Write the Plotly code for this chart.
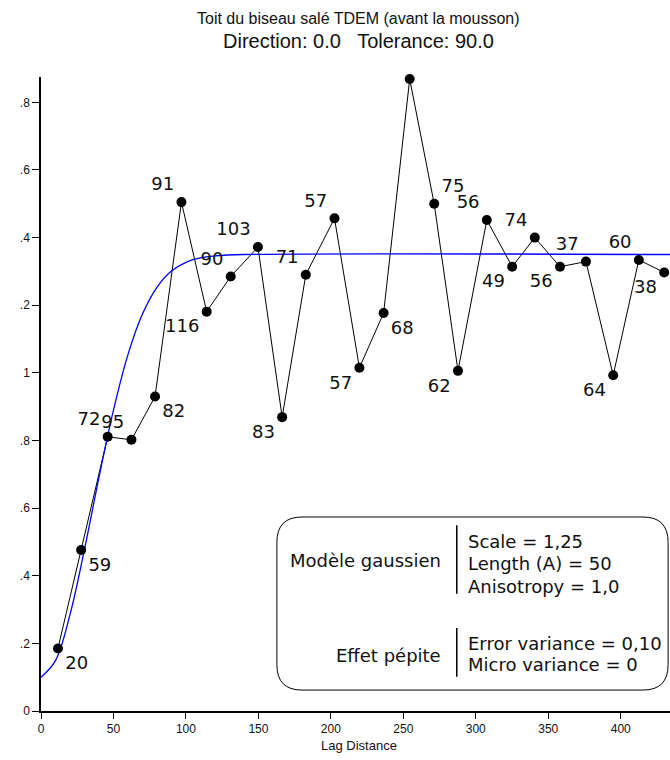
import plotly.graph_objects as go

# Experimental variogram (lag distance, semivariance, number of pairs)
lag = [11.7, 27.7, 46.0, 62.4, 78.7, 96.9, 114.3, 130.9, 149.7, 166.4, 182.7, 202.5,
       219.7, 236.4, 254.4, 271.3, 287.7, 307.6, 325.1, 340.7, 358.1, 376.0, 394.8, 412.5, 430.0]
gamma = [0.185, 0.476, 0.811, 0.802, 0.930, 1.505, 1.181, 1.285, 1.372, 0.869, 1.290, 1.457,
         1.015, 1.177, 1.869, 1.500, 1.006, 1.452, 1.314, 1.400, 1.314, 1.329, 0.993, 1.334, 1.297]
pairs = ["20", "59", "72", "95", "82", "91", "116", "90", "103", "83", "71", "57",
         "57", "68", "", "75", "62", "56", "49", "74", "56", "37", "64", "60", "38"]
label_pos = ["bottom right", "bottom right", "top left", "top left", "bottom right", "top left",
             "bottom left", "top left", "top left", "bottom left", "top left", "top left",
             "bottom left", "bottom right", "top center", "top right", "bottom left", "top left",
             "bottom left", "top left", "bottom left", "top left", "bottom left", "top left",
             "bottom left"]

# Fitted Gaussian model curve
model_lag = [0, 10, 20, 30, 40, 50, 60, 70, 80, 90, 100, 110, 120, 140, 434]
model_gamma = [0.100, 0.149, 0.285, 0.478, 0.691, 0.890, 1.054, 1.174, 1.253, 1.301,
               1.327, 1.340, 1.346, 1.350, 1.350]

x_ticks = [0, 50, 100, 150, 200, 250, 300, 350, 400]
y_tickvals = [0, 0.2, 0.4, 0.6, 0.8, 1.0, 1.2, 1.4, 1.6, 1.8]
y_ticktext = ["0", ".2", ".4", ".6", ".8", "1", ".2", ".4", ".6", ".8"]

FONT = "Liberation Sans, Arial, sans-serif"
WIDE = "DejaVu Sans, Verdana, sans-serif"
TXT = "#111111"

fig = go.Figure()
fig.add_trace(go.Scatter(x=lag, y=gamma, mode="lines",
                         line=dict(color="black", width=1), cliponaxis=False,
                         hoverinfo="skip", showlegend=False))
fig.add_trace(go.Scatter(x=model_lag, y=model_gamma, mode="lines",
                         line=dict(color="#0000ff", width=1.3, shape="spline"),
                         cliponaxis=False, showlegend=False))
fig.add_trace(go.Scatter(x=lag, y=gamma, mode="markers+text", text=pairs,
                         textposition=label_pos,
                         textfont=dict(family=WIDE, size=18, color=TXT),
                         marker=dict(color="black", size=10),
                         cliponaxis=False, showlegend=False))

fig.update_xaxes(range=[0, 434], tickvals=x_ticks, ticks="outside", ticklen=6,
                 tickcolor="black", showline=True, linecolor="black", linewidth=1.5,
                 showgrid=False, zeroline=False, automargin=False,
                 tickfont=dict(family=FONT, size=12, color=TXT))
fig.update_yaxes(range=[0, 1.875], tickvals=y_tickvals, ticktext=y_ticktext,
                 ticks="outside", ticklen=7, tickcolor="black",
                 showline=True, linecolor="black", linewidth=1.5,
                 showgrid=False, zeroline=False, automargin=False,
                 tickfont=dict(family=FONT, size=12, color=TXT))

# Rounded legend box (paper coords)
x0, x1, y0, y1, rx, ry = 0.375, 0.997, 0.033, 0.306, 0.04, 0.04
path = (f"M {x0+rx},{y1} L {x1-rx},{y1} Q {x1},{y1} {x1},{y1-ry} "
        f"L {x1},{y0+ry} Q {x1},{y0} {x1-rx},{y0} L {x0+rx},{y0} "
        f"Q {x0},{y0} {x0},{y0+ry} L {x0},{y1-ry} Q {x0},{y1} {x0+rx},{y1} Z")
shapes = [
    dict(type="path", xref="paper", yref="paper", path=path,
         line=dict(color="black", width=1)),
    dict(type="line", xref="paper", yref="paper", x0=0.661, x1=0.661, y0=0.185, y1=0.293,
         line=dict(color="black", width=1.5)),
    dict(type="line", xref="paper", yref="paper", x0=0.661, x1=0.661, y0=0.054, y1=0.131,
         line=dict(color="black", width=1.5)),
]

box_font = dict(family=WIDE, size=18, color=TXT)
annotations = [
    dict(text="Toit du biseau salé TDEM (avant la mousson)", x=0.505, y=1.092,
         xref="paper", yref="paper", showarrow=False, yanchor="middle",
         font=dict(family=FONT, size=16, color=TXT)),
    dict(text="Direction: 0.0   Tolerance: 90.0", x=0.505, y=1.057,
         xref="paper", yref="paper", showarrow=False, yanchor="middle",
         font=dict(family=FONT, size=20, color=TXT)),
    dict(text="Lag Distance", x=0.505, y=-0.054, xref="paper", yref="paper",
         showarrow=False, yanchor="middle", font=dict(family=FONT, size=13, color=TXT)),
    dict(text="Modèle gaussien", x=0.639, y=0.238, xref="paper", yref="paper",
         xanchor="right", yanchor="middle", showarrow=False, font=box_font),
    dict(text="Scale = 1,25", x=0.676, y=0.268, xref="paper", yref="paper",
         xanchor="left", yanchor="middle", showarrow=False, font=box_font),
    dict(text="Length (A) = 50", x=0.676, y=0.233, xref="paper", yref="paper",
         xanchor="left", yanchor="middle", showarrow=False, font=box_font),
    dict(text="Anisotropy = 1,0", x=0.676, y=0.196, xref="paper", yref="paper",
         xanchor="left", yanchor="middle", showarrow=False, font=box_font),
    dict(text="Effet pépite", x=0.639, y=0.088, xref="paper", yref="paper",
         xanchor="right", yanchor="middle", showarrow=False, font=box_font),
    dict(text="Error variance = 0,10", x=0.676, y=0.107, xref="paper", yref="paper",
         xanchor="left", yanchor="middle", showarrow=False, font=box_font),
    dict(text="Micro variance = 0", x=0.676, y=0.074, xref="paper", yref="paper",
         xanchor="left", yanchor="middle", showarrow=False, font=box_font),
]

fig.update_layout(width=670, height=760, margin=dict(l=41, r=0, t=77, b=49),
                  paper_bgcolor="white", plot_bgcolor="white",
                  font=dict(family=FONT, color=TXT),
                  shapes=shapes, annotations=annotations, showlegend=False)

fig.write_html("out.html", config={"displayModeBar": False},
               post_script="document.body.style.margin='0';document.body.style.overflow='hidden';")
